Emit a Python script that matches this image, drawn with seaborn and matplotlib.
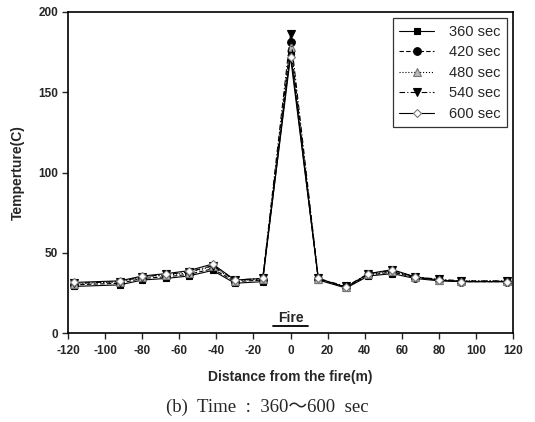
import numpy as np
import pandas as pd
import matplotlib
matplotlib.use("Agg")
import matplotlib.pyplot as plt
import seaborn as sns

distance = [-117, -92, -80, -67, -55, -42, -30, -15, 0, 15, 30, 42, 55, 67, 80, 92, 117]
t360 = [29, 30, 33, 34, 35.5, 39, 31, 32, 175, 33, 28, 35.5, 37, 34, 32.5, 32, 32]
t420 = [30, 31, 34, 35, 36.5, 40, 32, 33, 181, 33.5, 28.5, 36, 38, 34.5, 33, 32, 32]
t480 = [30.5, 32, 35, 36, 37.5, 41.5, 32.5, 33.5, 178, 33.5, 28.5, 36.5, 38.5, 35, 33, 32.5, 32.5]
t540 = [31, 32, 35, 36.5, 38, 42, 33, 34, 186, 34, 29, 37, 39, 35, 33.5, 32.5, 32.5]
t600 = [31.5, 32.5, 35.5, 37, 38.8, 43, 33, 34, 172, 34, 28.5, 37, 39.5, 35, 33, 32, 32]
series_labels = ["360 sec", "420 sec", "480 sec", "540 sec", "600 sec"]
x_ticks = [-120, -100, -80, -60, -40, -20, 0, 20, 40, 60, 80, 100, 120]
y_ticks = [0, 50, 100, 150, 200]

sns.set_style("ticks")
plt.rcParams['font.family'] = ['Liberation Sans', 'DejaVu Sans']

frames = []
for lab, vals in zip(series_labels, [t360, t420, t480, t540, t600]):
    frames.append(pd.DataFrame({"x": distance, "y": vals, "series": lab}))
df = pd.concat(frames, ignore_index=True)

fig = plt.figure(figsize=(5.35, 4.22), dpi=100)
ax = fig.add_axes([68/535, 1-333/422, (513-68)/535, (333-12)/422])

styles = {
    "360 sec": dict(marker="s", mfc="black", mec="black", ls="-", ms=5),
    "420 sec": dict(marker="o", mfc="black", mec="black", ls=(0, (4, 2)), ms=5.5),
    "480 sec": dict(marker="^", mfc="#bbbbbb", mec="#777777", ls=":", ms=5.5),
    "540 sec": dict(marker="v", mfc="black", mec="black", ls=(0, (5, 2, 1, 2)), ms=6),
    "600 sec": dict(marker="D", mfc="white", mec="#777777", ls="-", ms=4.5),
}
for lab in series_labels:
    st = styles[lab]
    sub = df[df["series"] == lab]
    sns.lineplot(data=sub, x="x", y="y", ax=ax, color="black", lw=0.8,
                 linestyle=st["ls"], marker=st["marker"], markersize=st["ms"],
                 markerfacecolor=st["mfc"], markeredgecolor=st["mec"],
                 markeredgewidth=0.8, label=lab, sort=False)

ax.set_xlim(-120, 120)
ax.set_ylim(0, 200)
ax.set_xticks(x_ticks)
ax.set_yticks(y_ticks)
ax.set_xticklabels([str(v) for v in x_ticks], fontsize=8.5, fontweight="bold")
ax.set_yticklabels([str(v) for v in y_ticks], fontsize=8.5, fontweight="bold")
ax.tick_params(axis="x", direction="out", length=4, width=1, pad=5)
ax.tick_params(axis="y", direction="out", length=4, width=1, pad=3)
for s in ax.spines.values():
    s.set_linewidth(1.2)
    s.set_color("black")
    s.set_visible(True)

ax.set_xlabel("Distance from the fire(m)", fontsize=10, fontweight="bold", labelpad=9)
ax.set_ylabel("Temperture(C)", fontsize=10, fontweight="bold", labelpad=10)

ax.text(0, 5.2, "Fire", ha="center", va="bottom", fontsize=10, fontweight="bold")
ax.plot([-9.5, 9.5], [4.6, 4.6], color="black", lw=1.3, clip_on=False)

leg = ax.legend(loc="upper right", bbox_to_anchor=(0.987, 0.981), borderaxespad=0,
                fontsize=10.5, frameon=True, fancybox=False, edgecolor="black",
                handlelength=2.4, handletextpad=1.0, borderpad=0.45, labelspacing=0.45)
leg.get_frame().set_linewidth(0.9)

fig.text(0.5, 1-407/422, "(b)  Time  :  360\uff5e600  sec", ha="center", va="center",
         fontsize=13.5, family=["Liberation Serif", "Noto Sans CJK JP", "DejaVu Serif"])

fig.savefig("out.png", dpi=100)
